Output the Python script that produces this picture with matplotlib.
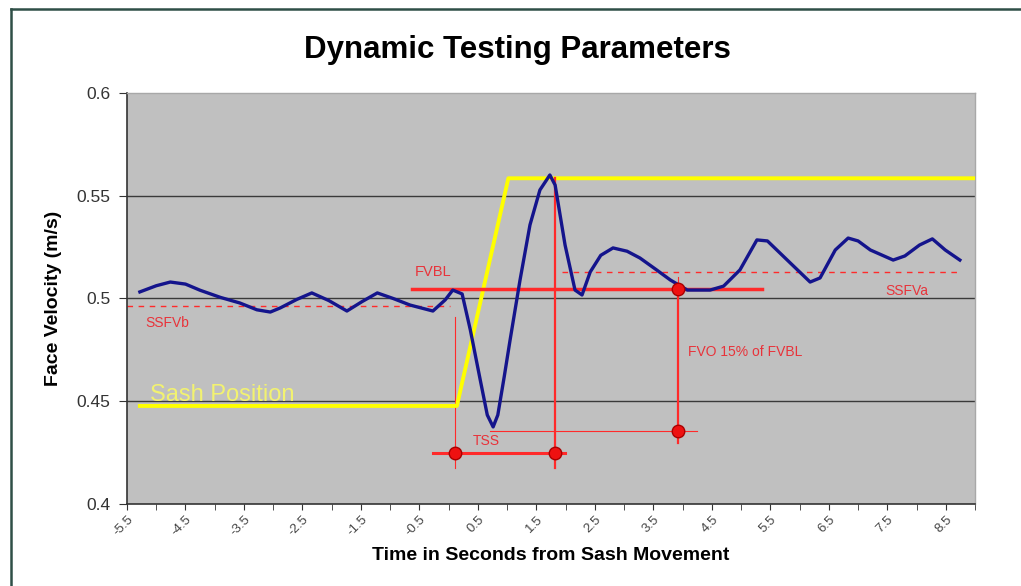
import matplotlib.pyplot as plt
from matplotlib.lines import Line2D

plt.rcParams['font.family'] = ['Liberation Sans', 'DejaVu Sans']

# face velocity trace (time s, m/s)
t_vel = [-5.28, -5.0, -4.76, -4.5, -4.25, -3.9, -3.57, -3.28, -3.05, -2.88, -2.6, -2.34, -2.05,
         -1.74, -1.48, -1.22, -0.95, -0.66, -0.27, -0.06, 0.07, 0.23, 0.37, 0.54, 0.66, 0.76,
         0.84, 0.95, 1.05, 1.22, 1.39, 1.56, 1.73, 1.82, 1.99, 2.16, 2.28, 2.42, 2.6, 2.81,
         3.05, 3.27, 3.55, 3.79, 4.08, 4.47, 4.7, 4.98, 5.27, 5.45, 5.84, 6.18, 6.35, 6.61,
         6.83, 7.0, 7.21, 7.6, 7.8, 8.05, 8.27, 8.49, 8.74]
face_vel = [0.5032, 0.5062, 0.5080, 0.5070, 0.5040, 0.5005, 0.4978, 0.4945, 0.4934, 0.4954,
            0.4995, 0.5027, 0.4990, 0.4939, 0.4985, 0.5027, 0.5000, 0.4968, 0.4939, 0.4993,
            0.5041, 0.5022, 0.4847, 0.4603, 0.4433, 0.4375, 0.4433, 0.4620, 0.4798, 0.5090,
            0.5358, 0.5528, 0.5601, 0.5552, 0.5260, 0.5041, 0.5017, 0.5129, 0.5210, 0.5246,
            0.5230, 0.5197, 0.5140, 0.5090, 0.5041, 0.5041, 0.5060, 0.5139, 0.5285, 0.5280,
            0.5173, 0.5080, 0.5100, 0.5236, 0.5294, 0.5280, 0.5236, 0.5187, 0.5207, 0.5260,
            0.5290, 0.5236, 0.5187]

# sash position trace
t_sash = [-5.28, 0.14, 1.02, 9.0]
sash = [0.4477, 0.4477, 0.5585, 0.5585]

# annotation levels
ssfvb = 0.4965
ssfva = 0.5129
fvbl = 0.5046
tss_level = 0.4248
fvo_level = 0.4355
t_start = 0.11
t_peak = 1.82
t_fvo = 3.92

xtick_vals = [-5.5, -4.5, -3.5, -2.5, -1.5, -0.5, 0.5, 1.5, 2.5, 3.5, 4.5, 5.5, 6.5, 7.5, 8.5]
ytick_vals = [0.4, 0.45, 0.5, 0.55, 0.6]

red = '#ff2a2a'
red_txt = '#e8333a'

fig = plt.figure(figsize=(10.21, 5.86), dpi=100)
ax = fig.add_axes([0.1244, 0.140, 0.8306, 0.7013])
ax.set_facecolor('#c0c0c0')

for v in [0.45, 0.5, 0.55]:
    ax.axhline(v, color='#3a3a3a', lw=1.0, zorder=1)

# red annotation lines
ax.plot([-5.5, 0.02], [ssfvb, ssfvb], color=red, lw=1.0, ls=(0, (4, 4)), zorder=2)
ax.plot([1.94, 8.74], [ssfva, ssfva], color=red, lw=1.0, ls=(0, (4, 4)), zorder=2)
ax.plot([-0.63, 5.36], [fvbl, fvbl], color=red, lw=2.5, zorder=4)
ax.plot([t_start, t_start], [0.491, 0.4175], color=red, lw=0.8, zorder=2)
ax.plot([-0.27, 1.99], [tss_level, tss_level], color=red, lw=2.2, zorder=4)
ax.plot([t_peak, t_peak], [0.5586, 0.4175], color=red, lw=1.6, zorder=4)
ax.plot([0.71, 4.25], [fvo_level, fvo_level], color=red, lw=0.8, zorder=2)
ax.plot([t_fvo, t_fvo], [fvbl, 0.4297], color=red, lw=1.6, zorder=4)
ax.plot([t_fvo, t_fvo], [0.5105, fvbl], color=red, lw=0.8, zorder=4)
ax.plot([t_start, t_peak, t_fvo, t_fvo], [tss_level, tss_level, fvo_level, fvbl], 'o',
        color='#ee1111', markeredgecolor='#aa0000', markersize=9, zorder=6)

ax.plot(t_sash, sash, color='#ffff00', lw=2.8, zorder=3)
ax.plot(t_vel, face_vel, color='#14148c', lw=2.4, zorder=5)

ax.text(-5.19, 0.488, 'SSFVb', color=red_txt, fontsize=10, va='center')
ax.text(-0.58, 0.5129, 'FVBL', color=red_txt, fontsize=10.5, va='center')
ax.text(0.42, 0.4307, 'TSS', color=red_txt, fontsize=10, va='center')
ax.text(4.09, 0.474, 'FVO 15% of FVBL', color=red_txt, fontsize=10, va='center')
ax.text(7.46, 0.5036, 'SSFVa', color=red_txt, fontsize=10, va='center')
ax.text(-5.11, 0.453, 'Sash Position', color='#f2f270', fontsize=17, va='center')

ax.set_xlim(-5.5, 9.0)
ax.set_ylim(0.4, 0.6)
ax.set_xticks(xtick_vals)
ax.set_xticklabels([str(v) for v in xtick_vals], rotation=45, ha='right',
                   rotation_mode='anchor', fontsize=9.5, color='#444444')
ax.set_xticks([v / 2 for v in range(-11, 19)], minor=True)
ax.set_yticks(ytick_vals)
ax.set_yticklabels([str(v) for v in ytick_vals], fontsize=12.5, color='#333333')
ax.tick_params(axis='x', which='both', length=4, color='#333333', pad=3)
ax.tick_params(axis='y', length=6, color='#333333', pad=6)

for s in ['left', 'bottom']:
    ax.spines[s].set_color('#333333')
    ax.spines[s].set_linewidth(1.2)
for s in ['top', 'right']:
    ax.spines[s].set_color('#a8a8a8')
    ax.spines[s].set_linewidth(1.0)

ax.set_xlabel('Time in Seconds from Sash Movement', fontsize=14, fontweight='bold', labelpad=6)
ax.set_ylabel('Face Velocity (m/s)', fontsize=14, fontweight='bold', labelpad=10)
fig.text(0.507, 0.915, 'Dynamic Testing Parameters', fontsize=22.5, fontweight='bold',
         ha='center', va='center')

# outer chart frame
fig.add_artist(Line2D([11 / 1021, 1.0], [1 - 9 / 586, 1 - 9 / 586], color='#2f4f47', lw=1.8))
fig.add_artist(Line2D([11 / 1021, 11 / 1021], [0.0, 1 - 9 / 586], color='#2f4f47', lw=1.8))

fig.savefig('out.png', dpi=100)
